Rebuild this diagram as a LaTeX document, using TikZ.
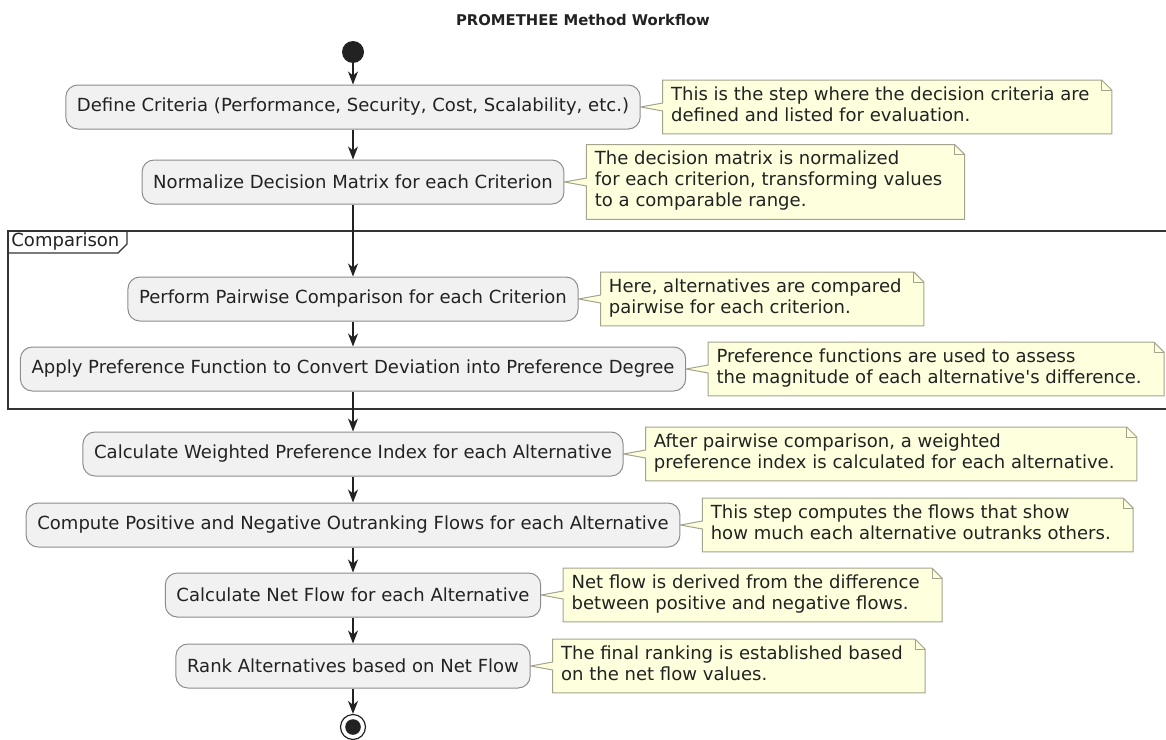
\documentclass[tikz,border=0pt]{standalone}
\usepackage{fontspec}
\setmainfont{DejaVu Sans}
\usepackage{tikz}
\usetikzlibrary{positioning,calc,arrows.meta,backgrounds}
\usepackage{xcolor}
\definecolor{ink}{HTML}{222222}
\definecolor{boxfill}{HTML}{F1F1F1}
\definecolor{boxline}{HTML}{8C8C8C}
\definecolor{notefill}{HTML}{FEFFDD}
\definecolor{noteline}{HTML}{A3A38E}
\definecolor{frameink}{HTML}{333333}

\begin{document}
\begin{tikzpicture}[x=0.5pt, y=-0.5pt, >={Stealth[length=6.5pt,width=5pt,inset=2pt]},
    every node/.style={font=\fontsize{9.02}{10.5}\selectfont, text=ink}]
      \tikzset{
	  stepbox/.style={draw=boxline, line width=0.5pt, fill=boxfill, rounded corners=6pt, minimum height=22pt, inner xsep=5.6pt},
	  notetext/.style={align=left, inner xsep=4pt, inner ysep=3pt, execute at begin node=\strut, execute at end node=\strut},
	  notebody/.style={draw=noteline, fill=notefill, line width=0.5pt},
	  flow/.style={->, draw=ink, line width=0.6pt},
	  frameline/.style={draw=frameink, line width=1pt},
      }
      \useasboundingbox (0,0) rectangle (1166,739);

      \node (title) at (583,20) [font=\bfseries\fontsize{7.4}{9}\selectfont] {PROMETHEE Method Workflow};

      % group frame
      \draw[frameline] (1170,231) -- (8,231) -- (8,409) -- (1170,409);
      \draw[frameline, line width=0.7pt] (8,253) -- (118,253) -- (127,244) -- (127,231);
      \node (cmp) at (11,242) [anchor=west, inner sep=0pt] {Comparison};

      % start and end
      \node (start) at (353,52) [circle, fill=ink, minimum size=11pt, inner sep=0pt] {};
      \node (stop) at (353,727) [circle, draw=ink, fill=white, line width=0.6pt, minimum size=12.5pt, inner sep=0pt] {};
      \fill[ink] (stop) circle (3.9pt);

      % activities
      \node (dc) at (353,107) [stepbox] {Define Criteria (Performance, Security, Cost, Scalability, etc.)};
      \node (nm) at (353,182) [stepbox] {Normalize Decision Matrix for each Criterion};
      \node (pc) at (353,299) [stepbox] {Perform Pairwise Comparison for each Criterion};
      \node (pf) at (353,369) [stepbox] {Apply Preference Function to Convert Deviation into Preference Degree};
      \node (wi) at (353,454) [stepbox] {Calculate Weighted Preference Index for each Alternative};
      \node (of) at (353,525) [stepbox] {Compute Positive and Negative Outranking Flows for each Alternative};
      \node (nf) at (353,595) [stepbox] {Calculate Net Flow for each Alternative};
      \node (rk) at (353,666) [stepbox] {Rank Alternatives based on Net Flow};

      % notes
      \node (dcn) [notetext, right=11pt of dc] {This is the step where the decision criteria are\\defined and listed for evaluation.};
      \node (nmn) [notetext, right=11pt of nm] {The decision matrix is normalized\\for each criterion, transforming values\\to a comparable range.};
      \node (pcn) [notetext, right=11pt of pc] {Here, alternatives are compared\\pairwise for each criterion.};
      \node (pfn) [notetext, right=11pt of pf] {Preference functions are used to assess\\the magnitude of each alternative\textquotesingle s difference.};
      \node (win) [notetext, right=11pt of wi] {After pairwise comparison, a weighted\\preference index is calculated for each alternative.};
      \node (ofn) [notetext, right=11pt of of] {This step computes the flows that show\\how much each alternative outranks others.};
      \node (nfn) [notetext, right=11pt of nf] {Net flow is derived from the difference\\between positive and negative flows.};
      \node (rkn) [notetext, right=11pt of rk] {The final ranking is established based\\on the net flow values.};

      \begin{scope}[on background layer]
	\foreach \b/\n in {dc/dcn, nm/nmn, pc/pcn, pf/pfn, wi/win, of/ofn, nf/nfn, rk/rkn} {
	  \draw[notebody] (\n.north west) -- ($(\n.north east)+(2pt,0pt)$) -- ($(\n.north east)+(7pt,-5pt)$)
	    -- ($(\n.south east)+(7pt,0pt)$) -- (\n.south west) -- ($(\n.west)+(0pt,-2pt)$)
	    -- (\b.east) -- ($(\n.west)+(0pt,2pt)$) -- cycle;
	  \draw[notebody, fill=none] ($(\n.north east)+(2pt,0pt)$) -- ++(0pt,-5pt) -- ++(5pt,0pt);
	}
      \end{scope}

      % control flow
      \foreach \a/\b in {start/dc, dc/nm, nm/pc, pc/pf, pf/wi, wi/of, of/nf, nf/rk, rk/stop}
	\draw[flow] (\a) -- (\b);
\end{tikzpicture}
\end{document}
